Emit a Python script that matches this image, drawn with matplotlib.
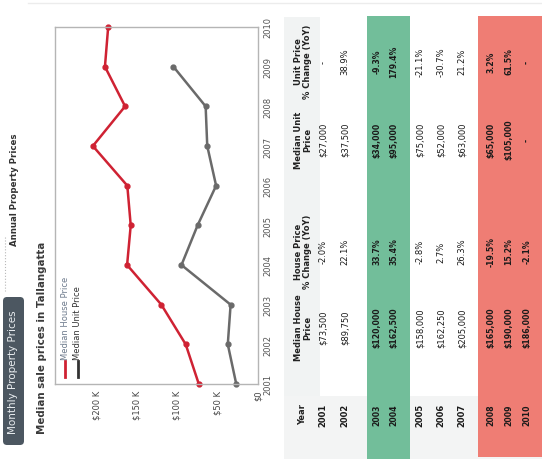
import matplotlib
matplotlib.use('Agg')
import matplotlib.pyplot as plt
import numpy as np
from matplotlib.patches import FancyBboxPatch, Rectangle
from matplotlib.lines import Line2D

# data
years = [2001, 2002, 2003, 2004, 2005, 2006, 2007, 2008, 2009, 2010]
house_price = [73500, 89750, 120000, 162500, 158000, 162250, 205000, 165000, 190000, 186000]
unit_price = [27000, 37500, 34000, 95000, 75000, 52000, 63000, 65000, 105000, np.nan]
house_change = ['-2.0%', '22.1%', '33.7%', '35.4%', '-2.8%', '2.7%', '26.3%', '-19.5%', '15.2%', '-2.1%']
unit_change = ['-', '38.9%', '-9.3%', '179.4%', '-21.1%', '-30.7%', '21.2%', '3.2%', '61.5%', '-']
price_ticks = [0, 50000, 100000, 150000, 200000]
price_tick_labels = ['$0', '$50 K', '$100 K', '$150 K', '$200 K']
headers = ['Year', 'Median House\nPrice', 'House Price\n% Change (YoY)',
           'Median Unit\nPrice', 'Unit Price\n% Change (YoY)']
green_years = [2003, 2004]
red_years = [2008, 2009, 2010]

RED = '#cf2233'
GREY = '#6a6a6a'

fig = plt.figure(figsize=(5.42, 4.64), dpi=100)
fig.patch.set_facecolor('white')

# page layer in pixel coordinates (the whole page is scanned sideways)
bg = fig.add_axes([0, 0, 1, 1], zorder=0)
bg.set_xlim(0, 542)
bg.set_ylim(464, 0)
bg.axis('off')

# tabs
tab = FancyBboxPatch((3, 298), 21, 148, boxstyle='round,pad=0,rounding_size=4',
                     fc='#4c5761', ec='none')
bg.add_patch(tab)
bg.text(13.5, 372, 'Monthly Property Prices', rotation=90, ha='center', va='center',
        fontsize=7.5, color='#e8ecef')
bg.text(15, 190, 'Annual Property Prices', rotation=90, ha='center', va='center',
        fontsize=6.2, fontweight='bold', color='#333333')
bg.plot([5, 5], [238, 292], ls=':', color='#b8b8b8', lw=0.8)
bg.plot([28, 542], [4, 4], color='#ececec', lw=1)

# chart title
bg.text(42, 338, 'Median sale prices in Tallangatta', rotation=90, ha='center',
        va='center', fontsize=7.4, fontweight='bold', color='#3a3a3a')

# legend (drawn by hand, rotated with the page)
bg.add_line(Line2D([65, 65], [362, 378], color=RED, lw=2))
bg.text(65, 360, 'Median House Price', rotation=90, ha='center', va='bottom',
        fontsize=6, color='#6d7a8c')
bg.add_line(Line2D([78, 78], [362, 378], color='#333333', lw=2))
bg.text(78, 360, 'Median Unit Price', rotation=90, ha='center', va='bottom',
        fontsize=6, color='#333333')

# table
row_x = [323, 345, 377, 394, 420, 441, 462, 491, 509, 527]
col_y = [415, 328, 252, 140, 62]
head_x = 303

bg.add_patch(Rectangle((284, 18), 36, 442, fc='#f1f3f3', ec='none'))
bg.add_patch(Rectangle((284, 397), 258, 63, fc='#f3f4f4', ec='none'))
lo = min(row_x[years.index(y)] for y in green_years) - 10
hi = max(row_x[years.index(y)] for y in green_years) + 16
bg.add_patch(Rectangle((lo, 17), hi - lo, 443, fc='#72be9a', ec='none'))
lo = min(row_x[years.index(y)] for y in red_years) - 13
bg.add_patch(Rectangle((lo, 17), 542 - lo, 441, fc='#ef7d74', ec='none'))

for y, txt in zip(col_y, headers):
    bg.text(head_x, y, txt, rotation=90, ha='center', va='center', fontsize=6,
            fontweight='bold', color='#222222', multialignment='center',
            linespacing=1.1)

for i, yr in enumerate(years):
    x = row_x[i]
    hot = yr in green_years or yr in red_years
    cells = [str(yr), f'${house_price[i]:,}', house_change[i],
             '-' if np.isnan(unit_price[i]) else f'${int(unit_price[i]):,}',
             unit_change[i]]
    for j, (y, txt) in enumerate(zip(col_y, cells)):
        bg.text(x, y, txt, rotation=90, ha='center', va='center',
                fontsize=5.6 if hot else 6,
                fontweight='bold' if (j == 0 or hot) else 'normal',
                color='#1a1a1a')

# line chart, rotated: years run bottom-to-top, price grows to the left
ax = fig.add_axes([55 / 542, 1 - 385 / 464, 203 / 542, 357 / 464], zorder=2)
ax.plot(house_price, years, color=RED, lw=1.8, marker='o', ms=3.5)
ax.plot(unit_price, years, color=GREY, lw=1.8, marker='o', ms=3.5)
ax.set_xlim(252000, 0)
ax.set_ylim(2001, 2010)
ax.set_xticks(price_ticks)
ax.set_xticklabels(price_tick_labels, rotation=90, fontsize=6, color='#444444')
ax.set_yticks(years)
ax.set_yticklabels([str(y) for y in years], rotation=90, fontsize=6,
                   color='#555555', va='center')
ax.yaxis.tick_right()
ax.tick_params(length=0, pad=4)
for s in ax.spines.values():
    s.set_color('#b5b5b5')
    s.set_linewidth(1)
ax.patch.set_alpha(0)
for l in ax.get_lines():
    l.set_clip_on(False)

fig.savefig('out.png', dpi=100)
